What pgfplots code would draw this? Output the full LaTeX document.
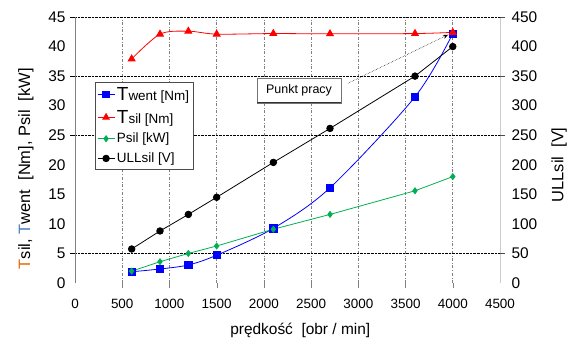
\documentclass[border=0pt]{standalone}
\usepackage{fontspec}
\setmainfont{Liberation Sans}
\usepackage{pgfplots}
\pgfplotsset{compat=1.18}
\usetikzlibrary{arrows.meta}
\definecolor{pgreen}{RGB}{0,176,80}
\definecolor{tblue}{RGB}{0,0,255}
\definecolor{tred}{RGB}{255,0,0}
\definecolor{torange}{RGB}{228,108,10}
\definecolor{tlblue}{RGB}{79,129,189}
\begin{document}
\begin{tikzpicture}
\path[use as bounding box] (0,0) rectangle (570bp,338bp);
\begin{axis}[
  at={(75bp,55bp)}, anchor=south west,
  scale only axis, width=425bp, height=266bp,
  xmin=0, xmax=4500, ymin=0, ymax=45,
  axis line style={draw=none},
  /pgf/number format/assume math mode=true,
  /pgf/number format/1000 sep={},
  scaled ticks=false,
  xtick={0,500,...,4500},
  ytick={0,5,...,45},
  ytick pos=left,
  xtick pos=bottom,
  tick align=outside,
  major tick length=0pt,
  xticklabel style={font=\fontsize{13.5}{14}\selectfont, yshift=-13bp},
  yticklabel style={font=\fontsize{15.5}{16}\selectfont, xshift=-6bp},
  extra x ticks={500,1000,...,4000},
  extra x tick labels={},
  extra x tick style={grid=major, major grid style={gray, dash dot, line width=0.6pt}, major tick length=5bp, tick style={gray}},
  extra y ticks={5,25,35,45},
  extra y tick labels={},
  extra y tick style={grid=major, major grid style={black, densely dotted, line width=0.7pt}, major tick length=5bp, tick style={black}},
  xlabel={prędkość\ \ [obr / min]},
  xlabel style={font=\fontsize{15.5}{16}\selectfont, at={(rel axis cs:0.53,0)}, anchor=center, yshift=-47bp},
  ylabel={{\color{torange}T}sil,\ {\color{tlblue}T}went\ \ [Nm],\ Psil\ \ [kW]},
  ylabel style={font=\fontsize{16.5}{17}\selectfont, at={(rel axis cs:0,0.43)}, anchor=center, yshift=49bp},
  clip=false,
]
\draw[gray, line width=0.6pt] (axis cs:0,0) -- (axis cs:0,45);
\draw[black!20, line width=1pt] (axis cs:4500,0) -- (axis cs:4500,45);
\addplot[tblue, line width=0.8pt, smooth, mark=square*, mark size=3.6pt, mark options={solid}] coordinates {
 (600,1.9) (900,2.37) (1200,3.05) (1500,4.7) (2100,9.25) (2700,16.1) (3600,31.5) (4000,42.2)};
\addplot[tred, line width=0.8pt, smooth, mark=triangle*, mark size=4pt] coordinates {
 (600,37.9) (900,42.1) (1200,42.6) (1500,42.1) (2100,42.2) (2700,42.15) (3600,42.2) (4000,42.4)};
\addplot[pgreen, line width=0.8pt, mark=diamond*, mark size=3pt] coordinates {
 (600,2.0) (900,3.6) (1200,5.0) (1500,6.26) (2100,9.1) (2700,11.6) (3600,15.6) (4000,18.0)};
\draw[densely dotted, line width=0.5pt, -{Stealth[length=5bp,width=4bp]}] (axis cs:2890,33.8) -- (axis cs:3950,42.0);
\node[draw=black!55, fill=white, font=\fontsize{12.5}{13}\selectfont, minimum width=84bp, minimum height=25bp, inner sep=0pt] at (axis cs:2372,32.6) {Punkt pracy};
\draw[black!80, line width=0.8pt] ([xshift=-42bp,yshift=-12.5bp]axis cs:2372,32.6) -- ([xshift=42bp,yshift=-12.5bp]axis cs:2372,32.6);
\end{axis}
\begin{axis}[
  at={(75bp,55bp)}, anchor=south west,
  scale only axis, width=425bp, height=266bp,
  xmin=0, xmax=4500, ymin=0, ymax=450,
  axis x line=none,
  axis y line*=right,
  y axis line style={draw=none},
  /pgf/number format/assume math mode=true,
  scaled ticks=false,
  ytick={0,50,...,450},
  tick align=outside,
  major tick length=0pt,
  yticklabel style={font=\fontsize{15.5}{16}\selectfont, xshift=8bp},
  extra y ticks={50,250,350,450},
  extra y tick labels={},
  extra y tick style={major tick length=5bp, tick style={black!70}},
  ylabel={ULLsil\ \ [V]},
  ylabel style={font=\fontsize{16.5}{17}\selectfont, at={(rel axis cs:1,0.444)}, anchor=center, rotate=0, yshift=-59bp},
  legend style={at={(rel axis cs:0.047,0.756)}, anchor=north west, draw=black!70, fill=white,
    font=\fontsize{13.5}{15}\selectfont, row sep=4.5bp, inner xsep=2bp, inner ysep=3bp, cells={anchor=west}},
  clip=false,
]
\addlegendimage{tblue, line width=0.8pt, mark=square*, mark size=3.2pt}
\addlegendentry{{\fontsize{19}{19}\selectfont T}went [Nm]}
\addlegendimage{tred, line width=0.8pt, mark=triangle*, mark size=3.8pt}
\addlegendentry{{\fontsize{19}{19}\selectfont T}sil [Nm]}
\addlegendimage{pgreen, line width=0.8pt, mark=diamond*, mark size=3pt}
\addlegendentry{Psil [kW]}
\addplot[black, line width=0.8pt, mark=*, mark size=3.3pt] coordinates {
 (600,57.5) (900,88) (1200,116) (1500,145) (2100,204) (2700,261.5) (3600,350) (4000,400)};
\addlegendentry{ULLsil [V]}
\end{axis}
\end{tikzpicture}
\end{document}
